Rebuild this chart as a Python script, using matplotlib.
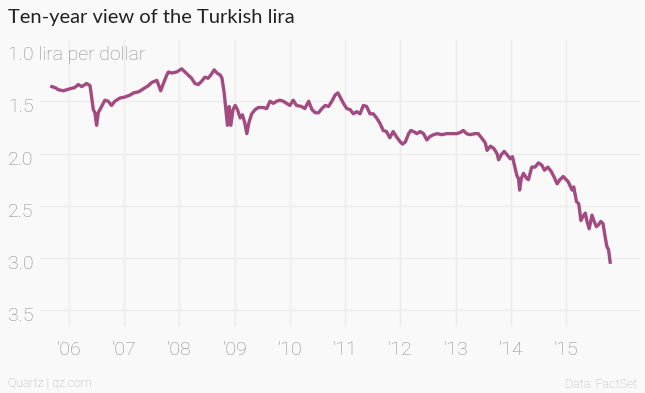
import matplotlib
matplotlib.use("Agg")
import matplotlib.pyplot as plt
import matplotlib.transforms as mtransforms

# weekly-ish readings, decimal years
years = [
    2005.69, 2005.75, 2005.81, 2005.90, 2006.02, 2006.10, 2006.17, 2006.23, 2006.32, 2006.38,
    2006.41, 2006.44, 2006.47, 2006.50, 2006.53, 2006.59, 2006.65, 2006.71, 2006.77, 2006.83,
    2006.92, 2007.01, 2007.11, 2007.17, 2007.26, 2007.35, 2007.44, 2007.50, 2007.59, 2007.62,
    2007.66, 2007.71, 2007.77, 2007.80, 2007.86, 2007.95, 2008.04, 2008.10, 2008.16, 2008.22,
    2008.28, 2008.34, 2008.40, 2008.46, 2008.52, 2008.58, 2008.63, 2008.68, 2008.74, 2008.77,
    2008.81, 2008.84, 2008.87, 2008.90, 2008.93, 2008.97, 2009.01, 2009.05, 2009.10, 2009.14,
    2009.18, 2009.22, 2009.26, 2009.31, 2009.37, 2009.43, 2009.52, 2009.58, 2009.64, 2009.70,
    2009.76, 2009.82, 2009.88, 2009.94, 2010.00, 2010.06, 2010.12, 2010.21, 2010.27, 2010.34,
    2010.40, 2010.46, 2010.52, 2010.58, 2010.64, 2010.70, 2010.76, 2010.82, 2010.87, 2010.91,
    2010.97, 2011.03, 2011.09, 2011.15, 2011.21, 2011.27, 2011.33, 2011.39, 2011.45, 2011.51,
    2011.57, 2011.63, 2011.69, 2011.75, 2011.81, 2011.87, 2011.93, 2012.00, 2012.04, 2012.09,
    2012.15, 2012.19, 2012.24, 2012.30, 2012.36, 2012.42, 2012.48, 2012.53, 2012.60, 2012.67,
    2012.75, 2012.84, 2012.93, 2013.02, 2013.08, 2013.14, 2013.20, 2013.26, 2013.35, 2013.41,
    2013.47, 2013.54, 2013.57, 2013.63, 2013.69, 2013.75, 2013.78, 2013.83, 2013.88, 2013.93,
    2013.99, 2014.03, 2014.08, 2014.11, 2014.14, 2014.16, 2014.19, 2014.23, 2014.29, 2014.32,
    2014.38, 2014.44, 2014.50, 2014.56, 2014.61, 2014.67, 2014.73, 2014.78, 2014.84, 2014.89,
    2014.95, 2015.04, 2015.11, 2015.14, 2015.19, 2015.23, 2015.27, 2015.31, 2015.35, 2015.38,
    2015.42, 2015.47, 2015.51, 2015.55, 2015.59, 2015.63, 2015.67, 2015.71, 2015.74, 2015.77,
    2015.80,
]
lira_per_dollar = [
    1.36, 1.37, 1.39, 1.40, 1.38, 1.37, 1.34, 1.36, 1.33, 1.35,
    1.46, 1.58, 1.61, 1.73, 1.61, 1.55, 1.49, 1.50, 1.54, 1.50,
    1.47, 1.46, 1.44, 1.42, 1.41, 1.38, 1.35, 1.32, 1.30, 1.34,
    1.40, 1.33, 1.25, 1.22, 1.23, 1.22, 1.19, 1.22, 1.25, 1.28,
    1.33, 1.34, 1.31, 1.27, 1.28, 1.24, 1.20, 1.23, 1.25, 1.28,
    1.42, 1.58, 1.73, 1.55, 1.73, 1.58, 1.54, 1.58, 1.66, 1.63,
    1.70, 1.81, 1.70, 1.62, 1.58, 1.56, 1.56, 1.57, 1.50, 1.52,
    1.50, 1.49, 1.50, 1.52, 1.54, 1.49, 1.54, 1.55, 1.57, 1.50,
    1.58, 1.61, 1.61, 1.57, 1.54, 1.55, 1.50, 1.44, 1.42, 1.46,
    1.52, 1.57, 1.58, 1.62, 1.60, 1.62, 1.54, 1.55, 1.62, 1.62,
    1.66, 1.71, 1.78, 1.79, 1.85, 1.79, 1.84, 1.89, 1.91, 1.89,
    1.81, 1.78, 1.79, 1.81, 1.79, 1.81, 1.87, 1.84, 1.82, 1.81,
    1.82, 1.81, 1.81, 1.81, 1.80, 1.78, 1.81, 1.82, 1.81, 1.81,
    1.85, 1.90, 1.97, 1.93, 1.95, 2.00, 2.06, 2.01, 1.98, 2.01,
    2.05, 2.03, 2.14, 2.21, 2.24, 2.35, 2.24, 2.19, 2.24, 2.25,
    2.13, 2.13, 2.09, 2.11, 2.16, 2.13, 2.17, 2.22, 2.29, 2.25,
    2.22, 2.27, 2.35, 2.32, 2.46, 2.48, 2.64, 2.60, 2.57, 2.65,
    2.72, 2.59, 2.65, 2.70, 2.68, 2.65, 2.67, 2.80, 2.89, 2.92,
    3.04,
]

tick_years = [2006, 2007, 2008, 2009, 2010, 2011, 2012, 2013, 2014, 2015]
tick_year_labels = ["'06", "'07", "'08", "'09", "'10", "'11", "'12", "'13", "'14", "'15"]
tick_values = [1.0, 1.5, 2.0, 2.5, 3.0, 3.5]
tick_value_labels = ["1.0 lira per dollar", "1.5", "2.0", "2.5", "3.0", "3.5"]

BG = "#f9f9f9"
GRID = "#ececec"
LINE = "#a24b80"
MUTED = "#8a8a8a"

fig = plt.figure(figsize=(6.45, 3.93), dpi=100, facecolor=BG)
ax = fig.add_axes([40 / 645, 1 - 327 / 393, 600 / 645, 287 / 393], facecolor=BG)

ax.plot(years, lira_per_dollar, color=LINE, linewidth=2.4, solid_joinstyle="round", zorder=3)

ax.set_xlim(2005.475, 2016.34)
ax.set_ylim(3.66, 0.914)

ax.set_xticks(tick_years)
ax.set_xticklabels(tick_year_labels)
ax.set_yticks(tick_values)
ax.set_yticklabels(tick_value_labels)

ax.grid(True, color=GRID, linewidth=1, zorder=0)
# no gridline behind the unit label
ax.get_ygridlines()[0].set_visible(False)
for side in ax.spines.values():
    side.set_visible(False)

ax.tick_params(axis="both", length=0, colors=MUTED, labelsize=14)
ax.tick_params(axis="x", pad=10)
ax.tick_params(axis="y", pad=23)

offset = mtransforms.ScaledTranslation(0, -4 / 100, fig.dpi_scale_trans)
for label in ax.get_yticklabels():
    label.set_horizontalalignment("left")
    label.set_fontfamily("Roboto")
    label.set_fontweight("light")
    label.set_transform(label.get_transform() + offset)
for label in ax.get_xticklabels():
    label.set_fontfamily("Roboto")
    label.set_fontweight("light")

fig.text(8 / 645, 1 - 18 / 393, "Ten-year view of the Turkish lira", fontsize=14.5,
         color="#222222", family="Lato", va="center", ha="left")
fig.text(8 / 645, 1 - 384 / 393, "Quartz | qz.com", fontsize=9, color="#b0b0b0",
         family="Roboto", fontweight="light", va="center", ha="left")
fig.text(637 / 645, 1 - 384 / 393, "Data: FactSet", fontsize=9, color="#b0b0b0",
         family="Roboto", fontweight="light", va="center", ha="right")

fig.savefig("out.png", dpi=100, facecolor=BG)
